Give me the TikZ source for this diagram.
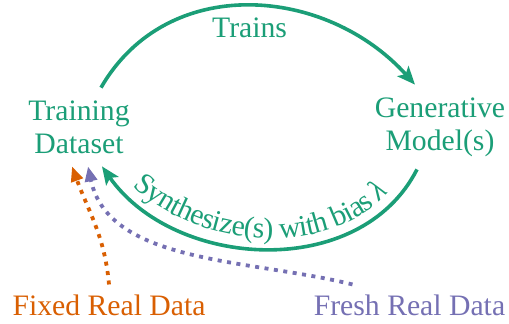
\documentclass[tikz,border=0pt]{standalone}
\usepackage{fontspec}
\setmainfont{Liberation Serif}
\usepackage{tikz}
\usetikzlibrary{arrows.meta,decorations.text,positioning}
\definecolor{cgreen}{HTML}{1B9E77}
\definecolor{corange}{HTML}{D95F02}
\definecolor{cpurple}{HTML}{7570B3}

\begin{document}
\fontsize{29.7}{33}\selectfont
\begin{tikzpicture}[x=1pt, y=1pt,
    stage/.style={text=cgreen, align=center, outer sep=3pt},
    loopedge/.style={draw=cgreen, line width=3.6pt, -{Stealth[length=18pt,width=15pt,inset=4pt]}},
    feed/.style={line width=3.8pt, dash pattern=on 4pt off 5.5pt, -{Triangle[length=15pt,width=12pt]}}]
\useasboundingbox (0,0) rectangle (509,-324);
\node[stage] (train) at (79,-127) {Training\\Dataset};
\node[stage] (gen) at (440,-127) {Generative\\Model(s)};
\node[text=corange] (fixed) at (109,-305) {Fixed Real Data};
\node[text=cpurple] (fresh) at (409.5,-305) {Fresh Real Data};

% the training loop
\draw[loopedge] ([xshift=22pt]train.north) to[out=60,in=132,looseness=1.08]
    node[below, text=cgreen] (trains) {Trains} ([xshift=-25pt]gen.north);
\draw[loopedge] ([xshift=-23pt]gen.south) to[out=243,in=305,looseness=1.02] ([xshift=23pt]train.south);
\path[decorate, decoration={text along path, text={Synthesize(s) with bias |\itshape|λ},
    text align=center, raise=10pt, text color=cgreen}]
    ([xshift=23pt]train.south) to[out=305,in=243,looseness=1.02] ([xshift=-23pt]gen.south);

% real data feeding in
\draw[feed, corange] (fixed.north) to[out=95,in=290] ([xshift=-7pt]train.south);
\draw[feed, cpurple] ([xshift=-57pt]fresh.north) .. controls +(166:105) and +(282:100) .. ([xshift=9pt]train.south);
\end{tikzpicture}
\end{document}
